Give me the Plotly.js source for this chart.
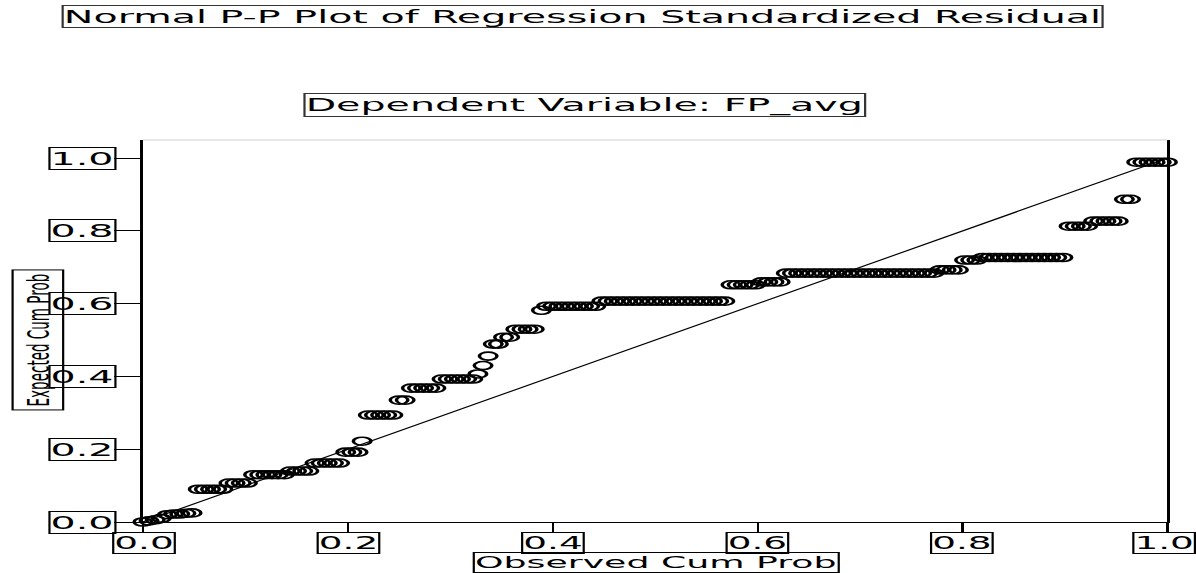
<!DOCTYPE html>
<html>
<head>
<meta charset="utf-8">
<script src="https://cdn.plot.ly/plotly-3.0.1.min.js"></script>
<style>
  html, body { margin: 0; padding: 0; background: #ffffff; overflow: hidden; }
  #plot { width: 544px; height: 573px; transform: scaleX(2.198529); transform-origin: 0 0; }
</style>
</head>
<body>
<div id="plot"></div>
<script>
// Observed cumulative probability (x) and expected cumulative probability (y)
const obsX = [
  0.000, 0.006, 0.012, 0.018,
  0.024, 0.030, 0.036, 0.042, 0.048,
  0.054, 0.060, 0.066, 0.072, 0.078,
  0.084, 0.090, 0.096, 0.102,
  0.108, 0.114, 0.120, 0.126, 0.132, 0.138,
  0.144, 0.150, 0.156, 0.162,
  0.168, 0.174, 0.180, 0.186, 0.192,
  0.198, 0.204, 0.210,
  0.214,
  0.220, 0.226, 0.232, 0.238, 0.244,
  0.250, 0.256,
  0.262, 0.268, 0.274, 0.280, 0.286,
  0.292, 0.298, 0.304, 0.310, 0.316, 0.322,
  0.327, 0.332, 0.337,
  0.342, 0.347,
  0.352, 0.358,
  0.364, 0.370, 0.376, 0.382,
  0.389,
  0.394, 0.400, 0.406, 0.412, 0.418, 0.424, 0.430, 0.436, 0.442,
  0.448, 0.454, 0.460, 0.466, 0.472, 0.478, 0.484, 0.490, 0.496, 0.502,
  0.508, 0.514, 0.520, 0.526, 0.532, 0.538, 0.544, 0.550, 0.556, 0.562, 0.568,
  0.574, 0.580, 0.586, 0.592, 0.598, 0.604, 0.610, 0.616, 0.622,
  0.628, 0.634, 0.640, 0.646, 0.652, 0.658, 0.664, 0.670, 0.676, 0.682,
  0.688, 0.694, 0.700, 0.706, 0.712, 0.718, 0.724, 0.730, 0.736, 0.742,
  0.748, 0.754, 0.760, 0.766, 0.772,
  0.778, 0.784, 0.790, 0.796,
  0.802, 0.808, 0.814, 0.820, 0.826, 0.832, 0.838, 0.844, 0.850, 0.856,
  0.862, 0.868, 0.874, 0.880, 0.886, 0.892, 0.898,
  0.904, 0.910, 0.916, 0.922,
  0.928, 0.934, 0.940, 0.946, 0.952,
  0.958, 0.964,
  0.970, 0.976, 0.982, 0.988, 0.994, 1.000
];
const expY = [
  0.000, 0.003, 0.006, 0.010,
  0.020, 0.022, 0.022, 0.024, 0.025,
  0.090, 0.090, 0.090, 0.090, 0.090,
  0.107, 0.107, 0.107, 0.107,
  0.130, 0.130, 0.130, 0.130, 0.130, 0.130,
  0.140, 0.140, 0.140, 0.140,
  0.162, 0.162, 0.162, 0.162, 0.162,
  0.192, 0.192, 0.192,
  0.222,
  0.294, 0.294, 0.294, 0.294, 0.294,
  0.335, 0.335,
  0.368, 0.368, 0.368, 0.368, 0.368,
  0.393, 0.393, 0.393, 0.393, 0.393, 0.393,
  0.407, 0.430, 0.456,
  0.489, 0.489,
  0.508, 0.508,
  0.530, 0.530, 0.530, 0.530,
  0.582,
  0.593, 0.593, 0.593, 0.593, 0.593, 0.593, 0.593, 0.593, 0.593,
  0.607, 0.607, 0.607, 0.607, 0.607, 0.607, 0.607, 0.607, 0.607, 0.607,
  0.607, 0.607, 0.607, 0.607, 0.607, 0.607, 0.607, 0.607, 0.607, 0.607, 0.607,
  0.652, 0.652, 0.652, 0.652, 0.652, 0.660, 0.660, 0.660, 0.660,
  0.684, 0.684, 0.684, 0.684, 0.684, 0.684, 0.684, 0.684, 0.684, 0.684,
  0.684, 0.684, 0.684, 0.684, 0.684, 0.684, 0.684, 0.684, 0.684, 0.684,
  0.684, 0.684, 0.684, 0.684, 0.684,
  0.693, 0.693, 0.693, 0.693,
  0.720, 0.720, 0.720, 0.727, 0.727, 0.727, 0.727, 0.727, 0.727, 0.727,
  0.727, 0.727, 0.727, 0.727, 0.727, 0.727, 0.727,
  0.813, 0.813, 0.813, 0.813,
  0.827, 0.827, 0.827, 0.827, 0.827,
  0.887, 0.887,
  0.989, 0.989, 0.989, 0.989, 0.989, 0.989
];
// Reference diagonal
const refLineX = [0, 1];
const refLineY = [0, 1];
// Axis ticks
const tickVals = [0, 0.2, 0.4, 0.6, 0.8, 1.0];
const tickLabels = ['0.0', '0.2', '0.4', '0.6', '0.8', '1.0'];
// Texts
const mainTitle = 'Normal P-P Plot of Regression Standardized Residual';
const subTitle = 'Dependent Variable: FP_avg';
const xTitle = 'Observed Cum Prob';
const yTitle = 'Expected Cum Prob';

const FONT = 'DejaVu Sans, Arial, sans-serif';
const boxed = {
  showarrow: false,
  bordercolor: '#000000',
  borderwidth: 1,
  borderpad: 0,
  bgcolor: 'rgba(255,255,255,0)'
};

const annotations = [];
tickVals.forEach((v, i) => {
  annotations.push(Object.assign({}, boxed, {
    xref: 'x', yref: 'y', x: 0, y: v,
    xanchor: 'right', yanchor: 'middle', xshift: -12,
    text: tickLabels[i],
    font: { family: FONT, size: 18, color: '#000' }
  }));
  annotations.push(Object.assign({}, boxed, {
    xref: 'x', yref: 'paper', x: v, y: 0,
    xanchor: 'center', yanchor: 'top', yshift: -9.5,
    xshift: (i === tickVals.length - 1) ? -1.6 : 0,
    text: tickLabels[i],
    font: { family: FONT, size: 17, color: '#000' }
  }));
});
annotations.push(Object.assign({}, boxed, {
  xref: 'x', yref: 'paper', x: 0.5, y: 0,
  xanchor: 'center', yanchor: 'top', yshift: -30,
  text: xTitle,
  font: { family: FONT, size: 16.5, color: '#000' }
}));
annotations.push(Object.assign({}, boxed, {
  xref: 'paper', yref: 'y', x: -0.1023, y: 0.5,
  xanchor: 'center', yanchor: 'middle', textangle: -90, borderpad: 3,
  text: yTitle,
  font: { family: FONT, size: 13.5, color: '#000' }
}));
annotations.push(Object.assign({}, boxed, {
  xref: 'paper', yref: 'paper', x: 0.430, y: 1.323,
  xanchor: 'center', yanchor: 'middle',
  text: mainTitle, bordercolor: '#333',
  font: { family: FONT, size: 18, color: '#000' }
}));
annotations.push(Object.assign({}, boxed, {
  xref: 'paper', yref: 'paper', x: 0.431, y: 1.0916,
  xanchor: 'center', yanchor: 'middle',
  text: subTitle, bordercolor: '#333',
  font: { family: FONT, size: 18, color: '#000' }
}));

const traces = [
  {
    x: refLineX, y: refLineY, type: 'scatter', mode: 'lines',
    line: { color: '#000000', width: 1 },
    hoverinfo: 'skip', cliponaxis: false
  },
  {
    x: obsX, y: expY, type: 'scatter', mode: 'markers',
    marker: { symbol: 'circle-open', size: 8, color: '#000000', line: { color: '#000000', width: 1.6 } },
    cliponaxis: false
  }
];

const layout = {
  width: 544, height: 573,
  margin: { l: 65, r: 13, t: 140, b: 51, pad: 0 },
  paper_bgcolor: '#ffffff', plot_bgcolor: '#ffffff',
  showlegend: false,
  font: { family: FONT, color: '#000' },
  xaxis: {
    range: [0, 1], showgrid: false, zeroline: false,
    showline: true, linecolor: '#000', linewidth: 1.3,
    ticks: 'outside', ticklen: 10, tickwidth: 1, tickcolor: '#000',
    tickvals: tickVals, showticklabels: false, fixedrange: true
  },
  yaxis: {
    range: [0, 1.05], showgrid: false, zeroline: false,
    showline: true, mirror: true, linecolor: '#000', linewidth: 1.3,
    ticks: 'outside', ticklen: 12, tickwidth: 1, tickcolor: '#000',
    tickvals: tickVals, showticklabels: false, fixedrange: true
  },
  shapes: [
    { type: 'line', xref: 'paper', yref: 'paper', x0: 0, x1: 1, y0: 1, y1: 1,
      line: { color: '#cfcfcf', width: 1 } }
  ],
  annotations: annotations
};

Plotly.newPlot('plot', traces, layout, { staticPlot: true, displayModeBar: false });
</script>
</body>
</html>
